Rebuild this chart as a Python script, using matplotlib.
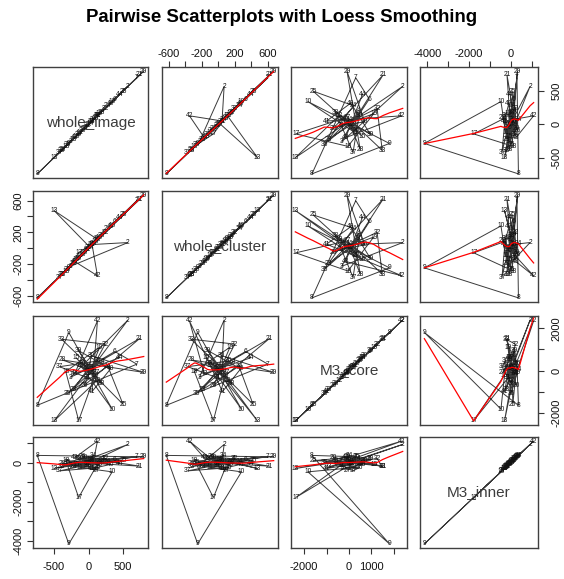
import matplotlib
matplotlib.use("Agg")
import matplotlib.pyplot as plt
import numpy as np

plt.rcParams["font.family"] = ["Liberation Sans", "DejaVu Sans"]

names = ["whole_image", "whole_cluster", "M3_core", "M3_inner"]

whole_image = [60, 571, -260, 210, -40, 380, 700, -743, -286, 343,
               -120, 130, -500, 20, -180, 90, -143, -330, 160, -60,
               743, 0, -220, 280, 500, -90, 110, -380, 800, 40,
               -20, 240, -390, 70, -300, 130, -420, 180, -150, 320,
               50, 129, -200, 450]
whole_cluster = [45, 70, -230, 185, -30, 330, 600, -630, -250, 280,
                 -100, 110, 475, 10, -150, 80, -60, -290, 140, -55,
                 620, 5, -190, 250, 420, -80, 95, -330, 670, 40,
                 -15, 200, -330, 60, -270, 120, -370, 160, -130, 270,
                 50, -350, -170, 390]
M3_core = [150, 2390, -320, 420, 80, 900, 300, -1650, 1800, -1830,
           250, -450, -2390, -120, 600, -250, -2370, -50, 1100, -700,
           1520, 120, -900, 200, -1600, 350, -80, 500, -90, 700,
           -350, 1250, 1480, 30, -1100, 450, 180, -600, 950, 80,
           -1000, 2350, -150, 600]
M3_inner = [80, 930, -150, 210, -60, 150, 300, 370, -4150, -470,
            -250, 40, -300, 180, -80, -320, -1780, 120, -120, 260,
            -180, -20, -200, 60, 100, 300, -380, -50, 320, 120,
            -140, 220, -220, 350, 20, -260, -420, 30, 190, -90,
            -300, 1100, 250, -30]

data = np.array([whole_image, whole_cluster, M3_core, M3_inner], dtype=float)
obs_ids = np.arange(1, data.shape[1] + 1)

# panel edges in pixels (left, right) and (top, bottom)
col_px = [(33, 148), (162, 278), (291, 407), (420, 538)]
row_px = [(67, 178), (191, 302), (316, 425), (437, 548)]
W, H = 564, 579

ticks = [
    ([-500, 0, 500], ["-500", "0", "500"]),
    ([-600, -400, -200, 0, 200, 400, 600], ["-600", "", "-200", "", "200", "", "600"]),
    ([-2000, -1000, 0, 1000, 2000], ["-2000", "", "0", "1000", "2000"]),
    ([-4000, -3000, -2000, -1000, 0, 1000], ["-4000", "", "-2000", "", "0", ""]),
]


def lowess(x, y, f=2 / 3, iters=3):
    order = np.argsort(x, kind="stable")
    xs, ys = x[order], y[order]
    n = len(xs)
    ns = max(min(int(f * n + 1e-7), n), 2)
    rw = np.ones(n)
    fit = np.zeros(n)
    span = xs[-1] - xs[0]
    for it in range(iters + 1):
        for i in range(n):
            d = np.abs(xs - xs[i])
            h = np.sort(d)[ns - 1]
            if h > 0:
                r = d / h
                w = np.where(r < 0.999, (1 - np.clip(r, 0, 1) ** 3) ** 3, 0.0)
                w[r <= 0.001] = 1.0
            else:
                w = (d == 0).astype(float)
            w = w * rw
            sw = w.sum()
            if sw <= 0:
                fit[i] = ys[i]
                continue
            w = w / sw
            xm = (w * xs).sum()
            var = (w * (xs - xm) ** 2).sum()
            if h > 0 and np.sqrt(var) > 0.001 * span:
                slope = (w * (xs - xm) * ys).sum() / var
                fit[i] = (w * ys).sum() + slope * (xs[i] - xm)
            else:
                fit[i] = (w * ys).sum()
        if it == iters:
            break
        res = ys - fit
        cmad = 6 * np.median(np.abs(res))
        if cmad < 1e-7 * np.mean(np.abs(ys)):
            break
        u = res / cmad
        rw = np.where(np.abs(u) < 1, (1 - u ** 2) ** 2, 0.0)
    return xs, fit


def padded(v):
    lo, hi = v.min(), v.max()
    pad = 0.04 * (hi - lo)
    return lo - pad, hi + pad


fig = plt.figure(figsize=(W / 100, H / 100), dpi=100)
fig.text(0.5, 1 - 18 / H, "Pairwise Scatterplots with Loess Smoothing",
         ha="center", va="center", fontsize=13.4, fontweight="bold")

tick_font = {"family": ["Liberation Sans Narrow", "Liberation Sans", "DejaVu Sans"], "size": 8}

for i in range(4):
    for j in range(4):
        x0, x1 = col_px[j]
        y0, y1 = row_px[i]
        ax = fig.add_axes([x0 / W, 1 - y1 / H, (x1 - x0) / W, (y1 - y0) / H])
        x, y = data[j], data[i]
        ax.plot(x, y, color="#3a3a3a", lw=0.7, zorder=1)
        for k in range(len(x)):
            ax.text(x[k], y[k], str(obs_ids[k]), fontsize=4.8, color="#111111",
                    ha="center", va="center", zorder=2)
        if i == j:
            ax.text(0.5, 0.5, names[i], transform=ax.transAxes, ha="center",
                    va="center", fontsize=11, color="#3c3c3c", zorder=3)
        else:
            sx, sy = lowess(x, y)
            ax.plot(sx, sy, color="red", lw=0.9, zorder=3)
        ax.set_xlim(*padded(x))
        ax.set_ylim(*padded(y))
        for s in ax.spines.values():
            s.set_color("#404040")
            s.set_linewidth(1.0)
        ax.tick_params(length=4, width=0.8, color="#333333", labelcolor="#111111")
        ax.set_xticks([])
        ax.set_yticks([])
        # axes alternate sides as in a classic pairs layout
        if i == 0 and j % 2 == 1:
            ax.set_xticks(ticks[j][0])
            ax.set_xticklabels(ticks[j][1], fontdict=tick_font)
            ax.xaxis.set_ticks_position("top")
            ax.tick_params(axis="x", pad=2)
        if i == 3 and j % 2 == 0:
            ax.set_xticks(ticks[j][0])
            labels = list(ticks[j][1])
            if j == 2:
                labels[-1] = ""
            ax.set_xticklabels(labels, fontdict=tick_font)
            ax.tick_params(axis="x", pad=6)
        if j == 0 and i % 2 == 1:
            ax.set_yticks(ticks[i][0])
            ax.set_yticklabels(ticks[i][1], fontdict=tick_font, rotation=90, va="center")
            ax.tick_params(axis="y", pad=3)
        if j == 3 and i % 2 == 0:
            ax.set_yticks(ticks[i][0])
            labels = list(ticks[i][1])
            if i == 2:
                labels = ["-2000", "", "0", "", "2000"]
            ax.set_yticklabels(labels, fontdict=tick_font, rotation=90, va="center")
            ax.yaxis.set_ticks_position("right")
            ax.tick_params(axis="y", pad=6)

fig.savefig("out.png", dpi=100)
